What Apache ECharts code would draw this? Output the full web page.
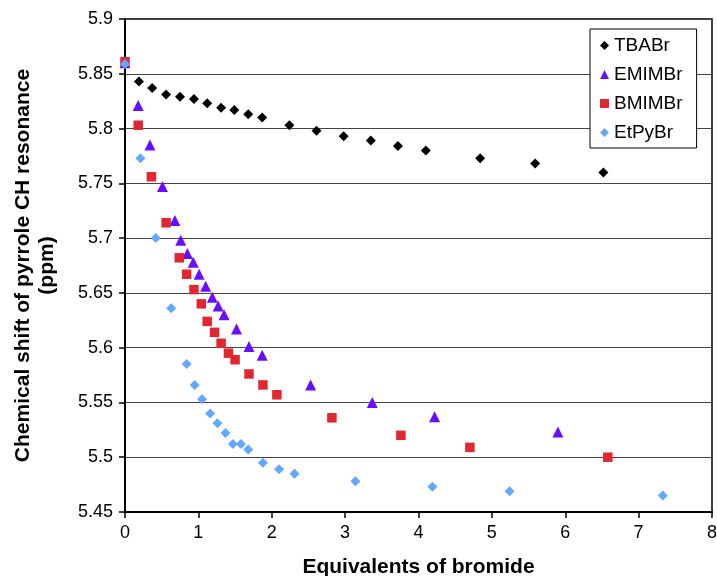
<!DOCTYPE html>
<html>
<head>
<meta charset="utf-8">
<script src="https://cdn.jsdelivr.net/npm/echarts@6/dist/echarts.min.js"></script>
<style>html,body{margin:0;padding:0;background:#fff}#c{width:717px;height:576px}</style>
</head>
<body>
<div id="c"></div>
<script>
var seriesNames = ['TBABr', 'EMIMBr', 'BMIMBr', 'EtPyBr'];
var xTicks = [0, 1, 2, 3, 4, 5, 6, 7, 8];
var yTicks = [5.45, 5.5, 5.55, 5.6, 5.65, 5.7, 5.75, 5.8, 5.85, 5.9];

var tbabrX = [0, 0.19, 0.37, 0.56, 0.75, 0.94, 1.12, 1.31, 1.49, 1.68, 1.87, 2.24, 2.61, 2.98, 3.35, 3.72, 4.10, 4.84, 5.59, 6.52];
var tbabrY = [5.860, 5.843, 5.837, 5.831, 5.829, 5.827, 5.823, 5.819, 5.817, 5.813, 5.810, 5.803, 5.798, 5.793, 5.789, 5.784, 5.780, 5.773, 5.768, 5.760];

var emimX = [0, 0.18, 0.34, 0.51, 0.68, 0.76, 0.85, 0.93, 1.01, 1.10, 1.19, 1.27, 1.35, 1.52, 1.69, 1.87, 2.53, 3.37, 4.22, 5.90];
var emimY = [5.860, 5.821, 5.785, 5.747, 5.716, 5.698, 5.686, 5.678, 5.667, 5.656, 5.646, 5.638, 5.630, 5.617, 5.601, 5.593, 5.566, 5.550, 5.537, 5.523];

var bmimX = [0, 0.18, 0.36, 0.56, 0.74, 0.84, 0.94, 1.04, 1.12, 1.22, 1.31, 1.41, 1.50, 1.69, 1.88, 2.07, 2.82, 3.76, 4.70, 6.58];
var bmimY = [5.861, 5.803, 5.756, 5.714, 5.682, 5.667, 5.653, 5.640, 5.624, 5.614, 5.604, 5.595, 5.589, 5.576, 5.566, 5.557, 5.536, 5.520, 5.509, 5.500];

var etpyX = [0, 0.21, 0.42, 0.63, 0.84, 0.95, 1.05, 1.16, 1.26, 1.37, 1.47, 1.58, 1.68, 1.88, 2.10, 2.31, 3.14, 4.19, 5.24, 7.33];
var etpyY = [5.859, 5.773, 5.700, 5.636, 5.585, 5.566, 5.553, 5.540, 5.531, 5.522, 5.512, 5.512, 5.507, 5.495, 5.489, 5.485, 5.478, 5.473, 5.469, 5.465];

function pairs(xs, ys) { return xs.map(function (x, i) { return [x, ys[i]]; }); }

var chart = echarts.init(document.getElementById('c'));
var font = 'Liberation Sans, Arial, sans-serif';
chart.setOption({
  animation: false,
  backgroundColor: '#fff',
  grid: { left: 125, right: 5, top: 19, bottom: 64, outerBoundsMode: 'none', containLabel: false,
    show: true, borderColor: '#000', borderWidth: 1.5, backgroundColor: 'transparent' },
  legend: {
    orient: 'vertical', left: 590, top: 29,
    backgroundColor: '#fff', borderColor: '#000', borderWidth: 1,
    padding: [7, 14, 6, 10], itemGap: 10, itemWidth: 9, itemHeight: 9,
    textStyle: { fontFamily: font, fontSize: 19, color: '#000' },
    data: seriesNames
  },
  xAxis: {
    type: 'value', min: 0, max: 8, interval: 1,
    name: 'Equivalents of bromide', nameLocation: 'middle', nameGap: 45,
    nameTextStyle: { fontFamily: font, fontSize: 21, fontWeight: 'bold', color: '#000' },
    axisLine: { show: true, lineStyle: { color: '#000', width: 2 } },
    axisTick: { show: true, length: 6, lineStyle: { color: '#000', width: 1.5 } },
    axisLabel: { fontFamily: font, fontSize: 18, color: '#000', margin: 12 },
    splitLine: { show: false }
  },
  yAxis: {
    type: 'value', min: 5.45, max: 5.9, interval: 0.05,
    name: 'Chemical shift of pyrrole CH resonance\n(ppm)', nameLocation: 'middle', nameGap: 66,
    nameTextStyle: { fontFamily: font, fontSize: 21, fontWeight: 'bold', color: '#000', lineHeight: 24 },
    axisLine: { show: true, lineStyle: { color: '#000', width: 2 } },
    axisTick: { show: true, length: 6, lineStyle: { color: '#000', width: 1.5 } },
    axisLabel: { fontFamily: font, fontSize: 18, color: '#000', margin: 12,
      formatter: function (v) { return String(parseFloat(v.toFixed(2))); } },
    splitLine: { show: true, lineStyle: { color: '#444', width: 1.2 } }
  },
  series: [
    { name: 'TBABr', type: 'scatter', symbol: 'diamond', symbolSize: 10, itemStyle: { color: '#000', opacity: 1 }, data: pairs(tbabrX, tbabrY), z: 2 },
    { name: 'EMIMBr', type: 'scatter', symbol: 'triangle', symbolSize: 11, itemStyle: { color: '#6a0dff', opacity: 1 }, data: pairs(emimX, emimY), z: 3 },
    { name: 'BMIMBr', type: 'scatter', symbol: 'rect', symbolSize: 9.5, itemStyle: { color: '#e0282e', opacity: 1 }, data: pairs(bmimX, bmimY), z: 4 },
    { name: 'EtPyBr', type: 'scatter', symbol: 'diamond', symbolSize: 10, itemStyle: { color: '#62a8ff', opacity: 1 }, data: pairs(etpyX, etpyY), z: 5 }
  ]
});
</script>
</body>
</html>
